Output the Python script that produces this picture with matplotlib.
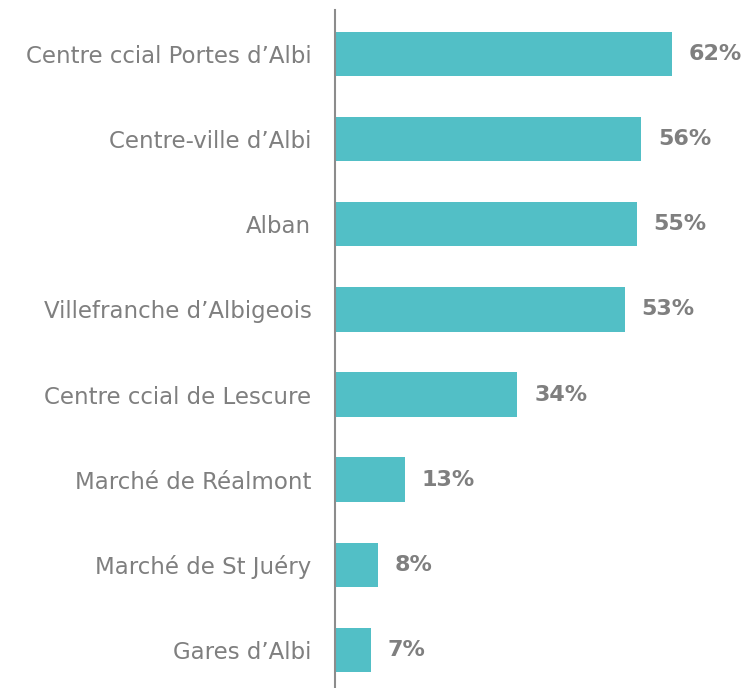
import matplotlib
matplotlib.use("Agg")
import matplotlib.pyplot as plt

categories = ["Centre ccial Portes d\u2019Albi", "Centre-ville d\u2019Albi", "Alban",
              "Villefranche d\u2019Albigeois", "Centre ccial de Lescure",
              "March\u00e9 de R\u00e9almont", "March\u00e9 de St Ju\u00e9ry", "Gares d\u2019Albi"]
values = [62.0, 56.4, 55.6, 53.4, 33.6, 12.8, 8.0, 6.6]
value_labels = ["62%", "56%", "55%", "53%", "34%", "13%", "8%", "7%"]

W, H = 748, 688
fig = plt.figure(figsize=(W / 100, H / 100), dpi=100)
ax = fig.add_axes([335 / W, 0, (W - 335) / W, (H - 10) / H])

pos = list(range(len(categories)))
ax.barh(pos, values, height=0.52, color="#52BFC6")
ax.set_ylim(7.45, -0.52)
ax.set_xlim(0, (W - 335) / 5.43)

for p, v, lab in zip(pos, values, value_labels):
    ax.annotate(lab, (v, p), xytext=(12, 0), textcoords="offset points",
                va="center", ha="left", fontsize=16, fontweight="bold",
                color="#7f7f7f", family="DejaVu Sans")

ax.set_yticks(pos)
ax.set_yticklabels(categories, fontsize=16.5, color="#7f7f7f")
ax.tick_params(axis="y", length=0, pad=17)
ax.set_xticks([])
for s in ["top", "right", "bottom"]:
    ax.spines[s].set_visible(False)
ax.spines["left"].set_color("#8c8c8c")
ax.spines["left"].set_linewidth(1.5)

fig.savefig("out.png", dpi=100)
